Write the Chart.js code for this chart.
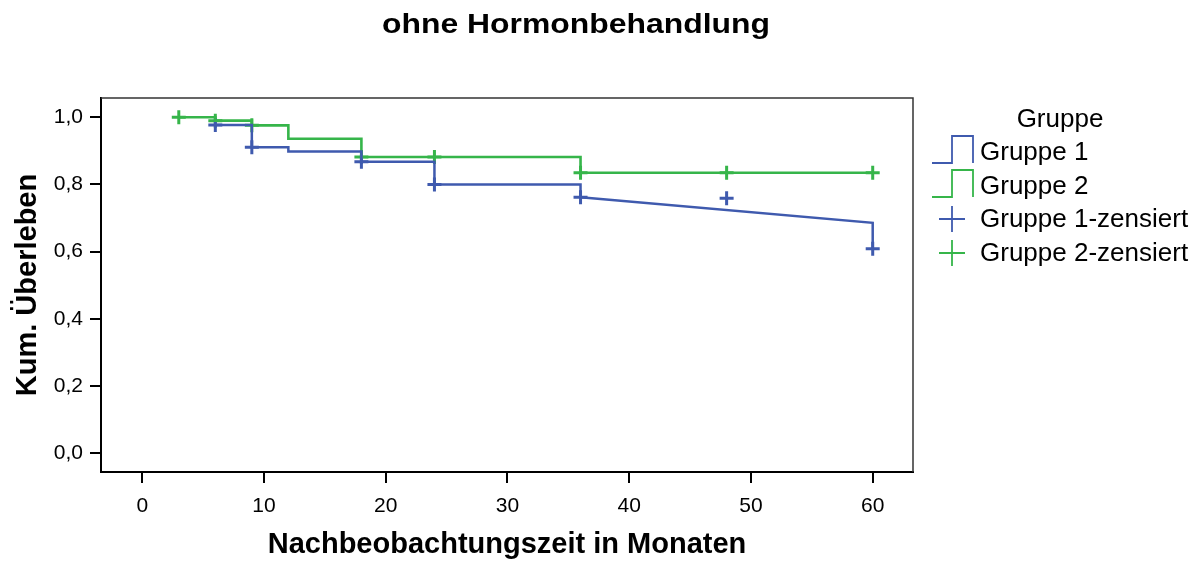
<!DOCTYPE html>
<html lang="de">
<head>
  <meta charset="UTF-8">
  <title>ohne Hormonbehandlung</title>
  <script src="https://cdn.jsdelivr.net/npm/chart.js"></script>
  <style>
    body {
      margin: 0;
      padding: 0;
      background: #fff;
    }
    #wrap {
      width: 1203px;
      height: 562px;
    }
  </style>
</head>
<body>
  <div id="wrap">
    <canvas id="km" width="1203" height="562"></canvas>
  </div>

  <script>
    // Kaplan-Meier Schätzung
    const g1Time = [6, 9, 12, 18, 24, 36];
    const g1Surv = [0.977, 0.911, 0.898, 0.868, 0.800, 0.762];
    // Gruppe 1 endet mit schräger Linie bis 60 und Abfall
    const g1TailTime = [36, 60, 60];
    const g1TailSurv = [0.762, 0.686, 0.609];
    const g1CensTime = [6, 9, 18, 24, 36, 48, 60];
    const g1CensSurv = [0.977, 0.911, 0.868, 0.800, 0.762, 0.759, 0.609];

    const g2Time = [3, 6, 9, 12, 18, 36, 60];
    const g2Surv = [1.0, 0.990, 0.976, 0.936, 0.882, 0.835, 0.835];
    const g2CensTime = [3, 6, 9, 18, 24, 36, 48, 60];
    const g2CensSurv = [1.0, 0.990, 0.976, 0.882, 0.882, 0.835, 0.835, 0.835];

    const xTicks = [0, 10, 20, 30, 40, 50, 60];
    const yTicks = [0, 0.2, 0.4, 0.6, 0.8, 1.0];

    const legendLabels = ['Gruppe 1', 'Gruppe 2', 'Gruppe 1-zensiert', 'Gruppe 2-zensiert'];

    const BLUE = '#3f5aae';
    const GREEN = '#36b54a';
    const FONT = "'Liberation Sans', Arial, Helvetica, sans-serif";

    const pts = (xs, ys) => xs.map((x, i) => ({ x: x, y: ys[i] }));

    const extras = {
      id: 'extras',
      afterDraw(chart) {
        const ctx = chart.ctx;
        const a = chart.chartArea;
        ctx.save();

        // top and right frame
        ctx.strokeStyle = '#333';
        ctx.lineWidth = 1.5;
        ctx.beginPath();
        ctx.moveTo(a.left, a.top);
        ctx.lineTo(a.right, a.top);
        ctx.lineTo(a.right, a.bottom);
        ctx.stroke();

        // title (the original is a bit stretched horizontally)
        ctx.fillStyle = '#000';
        ctx.font = 'bold 28px ' + FONT;
        ctx.textBaseline = 'alphabetic';
        ctx.textAlign = 'left';
        const title = 'ohne Hormonbehandlung';
        const w = ctx.measureText(title).width;
        const sx = 388 / w;
        ctx.save();
        ctx.translate(382, 33);
        ctx.scale(sx, 1);
        ctx.fillText(title, 0, 0);
        ctx.restore();

        // legend
        ctx.font = '26px ' + FONT;
        ctx.textAlign = 'center';
        ctx.fillText('Gruppe', 1060, 127);
        ctx.textAlign = 'left';
        const base = [160, 194, 227, 261];
        legendLabels.forEach((t, i) => ctx.fillText(t, 980, base[i]));

        ctx.lineWidth = 1.8;
        [[BLUE, 163], [GREEN, 197]].forEach(([c, yb]) => {
          ctx.strokeStyle = c;
          ctx.beginPath();
          ctx.moveTo(932, yb);
          ctx.lineTo(952, yb);
          ctx.lineTo(952, yb - 27);
          ctx.lineTo(973, yb - 27);
          ctx.lineTo(973, yb);
          ctx.stroke();
        });
        [[BLUE, 219], [GREEN, 253]].forEach(([c, yc]) => {
          ctx.strokeStyle = c;
          ctx.beginPath();
          ctx.moveTo(939, yc);
          ctx.lineTo(965, yc);
          ctx.moveTo(952, yc - 13);
          ctx.lineTo(952, yc + 13);
          ctx.stroke();
        });
        ctx.restore();
      }
    };

    const tickFont = { family: FONT, size: 21 };
    const axisTitleFont = { family: FONT, size: 29, weight: 'bold' };

    new Chart(document.getElementById('km'), {
      type: 'line',
      data: {
        datasets: [
          {
            label: 'Gruppe 1',
            data: pts(g1Time, g1Surv),
            borderColor: BLUE,
            borderWidth: 2.5,
            stepped: 'before',
            pointRadius: 0
          },
          {
            label: 'Gruppe 1 Ende',
            data: pts(g1TailTime, g1TailSurv),
            borderColor: BLUE,
            borderWidth: 2.5,
            pointRadius: 0
          },
          {
            label: 'Gruppe 2',
            data: pts(g2Time, g2Surv),
            borderColor: GREEN,
            borderWidth: 2.6,
            stepped: 'before',
            pointRadius: 0
          },
          {
            label: 'Gruppe 1-zensiert',
            data: pts(g1CensTime, g1CensSurv),
            showLine: false,
            pointStyle: 'cross',
            pointRadius: 7,
            borderColor: BLUE,
            borderWidth: 3
          },
          {
            label: 'Gruppe 2-zensiert',
            data: pts(g2CensTime, g2CensSurv),
            showLine: false,
            pointStyle: 'cross',
            pointRadius: 7,
            borderColor: GREEN,
            borderWidth: 3
          }
        ]
      },
      options: {
        responsive: false,
        animation: false,
        layout: { padding: { top: 98, right: 290, left: 0, bottom: 0 } },
        plugins: {
          legend: { display: false },
          title: { display: false },
          tooltip: { enabled: false }
        },
        scales: {
          x: {
            type: 'linear',
            min: -3.39,
            max: 63.31,
            afterFit: s => { s.height = 90; },
            afterBuildTicks: s => { s.ticks = xTicks.map(v => ({ value: v })); },
            grid: {
              drawOnChartArea: false,
              drawTicks: true,
              tickLength: 11,
              color: '#000',
              lineWidth: 2
            },
            border: { color: '#000', width: 2 },
            ticks: {
              color: '#000',
              font: tickFont,
              padding: 11,
              maxRotation: 0,
              callback: v => String(v)
            },
            title: {
              display: true,
              text: 'Nachbeobachtungszeit in Monaten',
              color: '#000',
              font: axisTitleFont,
              padding: { top: 0, bottom: 0 }
            }
          },
          y: {
            type: 'linear',
            min: -0.0557,
            max: 1.0574,
            afterFit: s => { s.width = 101; },
            afterBuildTicks: s => { s.ticks = yTicks.map(v => ({ value: v })); },
            grid: {
              drawOnChartArea: false,
              drawTicks: true,
              tickLength: 11,
              color: '#000',
              lineWidth: 2
            },
            border: { color: '#000', width: 2 },
            ticks: {
              color: '#000',
              font: tickFont,
              padding: 7,
              callback: v => v.toFixed(1).replace('.', ',')
            },
            title: {
              display: true,
              text: 'Kum. Überleben',
              color: '#000',
              font: axisTitleFont,
              padding: { top: 11, bottom: 0 }
            }
          }
        }
      },
      plugins: [extras]
    });
  </script>
</body>
</html>
